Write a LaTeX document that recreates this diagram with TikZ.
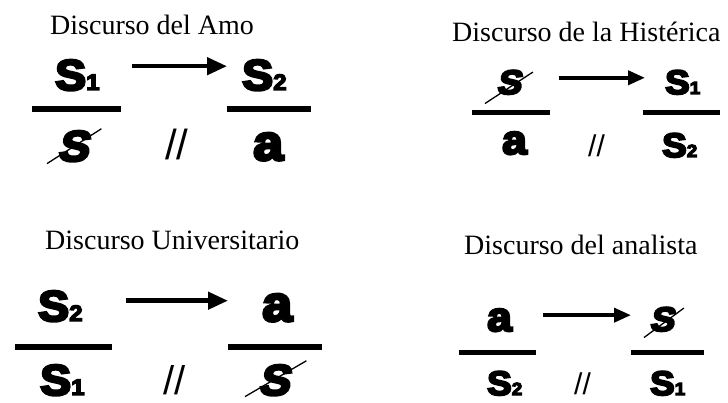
\documentclass[tikz,border=0pt]{standalone}
\usepackage{fontspec}
\setmainfont{Liberation Serif}
\newfontfamily\lacanfont{Liberation Sans Bold}[FakeStretch=1.08,FakeBold=6]
\newfontfamily\lacanslant{Liberation Sans Bold}[FakeStretch=1.08,FakeSlant=0.2,FakeBold=6]
\newfontfamily\sepfont{Liberation Sans}
\usetikzlibrary{arrows.meta}
\newcommand\lsub[1]{\scalebox{0.52}{#1}}

\begin{document}
\begin{tikzpicture}[
  x=1pt,y=-1pt,
  ttl/.style={font=\fontsize{28}{30}\selectfont,anchor=base west,inner sep=0pt},
  sg/.style ={font=\lacanfont\fontsize{#1}{#1}\selectfont,anchor=base west,inner sep=0pt},
  sb/.style ={font=\lacanslant\fontsize{#1}{#1}\selectfont,anchor=base west,inner sep=0pt},
  sl/.style ={font=\sepfont\fontsize{#1}{#1}\selectfont,anchor=base west,inner sep=0pt},
  bar/.style={fill=black,inner sep=0pt,minimum height=#1},
  ar/.style ={-{Triangle[length=20pt,width=17pt]},line width=4.5pt},
  ar2/.style={-{Triangle[length=17pt,width=14pt]},line width=3.8pt},
  cut/.style={line width=1.3pt}
]
\useasboundingbox (0,0) rectangle (728,403);

% ======== amo
\node[ttl] (t1) at (50,34.5) {Discurso del Amo};
\node[sg=43] (m1) at (55,90)  {S\lsub{1}};
\node[sg=43] (m2) at (242,90) {S\lsub{2}};
\node[bar=6pt,minimum width=89pt] (b1) at (76.5,109) {};
\node[bar=6pt,minimum width=84pt] (b2) at (269,109) {};
\node[sb=43] (m3) at (57,161)  {S};
\node[sl=42] (p1) at (165,160) {//};
\node[sg=50] (m4) at (253,160) {a};
\coordinate (a1) at ([xshift=32pt,yshift=9pt]m1.east);
\coordinate (a1e) at (m2.west |- a1);
\draw[ar] (a1) -- ([xshift=-15pt]a1e);
\draw[cut] ([xshift=-10pt,yshift=-2pt]m3.south west) -- ([xshift=13pt,yshift=2pt]m3.north east);

% ======== histerica
\node[ttl] (t2) at (452,42) {Discurso de la Histérica};
\node[sb=34] (h1) at (496,94) {S};
\node[sg=34] (h2) at (665,94) {S\lsub{1}};
\node[bar=5pt,minimum width=78pt] (b3) at (511,113)   {};
\node[bar=5pt,minimum width=77pt] (b4) at (681.5,113) {};
\node[sg=41] (h3) at (502,154) {a};
\node[sl=30] (p2) at (588,157) {//};
\node[sg=34] (h4) at (662,157) {S\lsub{2}};
\coordinate (a2) at ([xshift=38pt,yshift=4.5pt]h1.east);
\coordinate (a2e) at (h2.west |- a2);
\draw[ar2] (a2) -- ([xshift=-20pt]a2e);
\draw[cut] ([xshift=-11pt,yshift=-9pt]h1.south west) -- ([xshift=12pt,yshift=-2pt]h1.north east);

% ======== universitario
\node[ttl] (t3) at (45,250) {Discurso Universitario};
\node[sg=43] (u1) at (38,321)  {S\lsub{2}};
\node[sg=50] (u2) at (262,321) {a};
\node[bar=6pt,minimum width=97pt] (b5) at (63.5,347) {};
\node[bar=6pt,minimum width=94pt] (b6) at (275,347)  {};
\node[sg=43] (u3) at (40,395)  {S\lsub{1}};
\node[sl=40] (p3) at (163,394) {//};
\node[sb=43] (u4) at (258,395) {S};
\coordinate (a3) at ([xshift=43pt,yshift=5.5pt]u1.east);
\coordinate (a3e) at (u2.west |- a3);
\draw[ar] (a3) -- ([xshift=-34pt]a3e);
\draw[cut] ([xshift=-13pt,yshift=-1pt]u4.south west) -- ([xshift=17pt,yshift=4pt]u4.north east);

% ======== analista
\node[ttl] (t4) at (464,255) {Discurso del analista};
\node[sg=41] (q1) at (487,331) {a};
\node[sb=34] (q2) at (649,331) {S};
\node[bar=5pt,minimum width=77pt] (b7) at (497.5,352) {};
\node[bar=5pt,minimum width=73pt] (b8) at (667.5,352) {};
\node[sg=34] (q3) at (487,395) {S\lsub{2}};
\node[sl=30] (p4) at (574,394) {//};
\node[sg=34] (q4) at (650,395) {S\lsub{1}};
\coordinate (a4) at ([xshift=31pt,yshift=5pt]q1.east);
\coordinate (a4e) at (q2.west |- a4);
\draw[ar2] (a4) -- ([xshift=-18pt]a4e);
\draw[cut] ([xshift=-5pt,yshift=-6pt]q2.south west) -- ([xshift=10pt,yshift=-1pt]q2.north east);
\end{tikzpicture}
\end{document}
